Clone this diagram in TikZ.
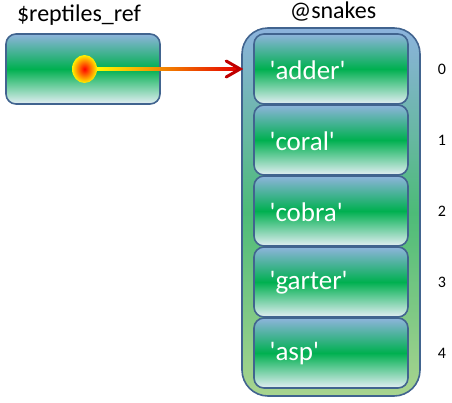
\documentclass[tikz,border=0pt]{standalone}
\usepackage{fontspec}
\setmainfont{Carlito}[Ligatures=TeXOff]
\usetikzlibrary{calc}
\definecolor{bordc}{HTML}{41648F}
\definecolor{topb}{HTML}{8EB4DC}
\definecolor{midg}{HTML}{00B050}
\definecolor{botw}{HTML}{E4EEF4}
\definecolor{otop}{HTML}{8CB3DD}
\definecolor{omid}{HTML}{4DBB78}
\definecolor{obot}{HTML}{A9D48F}
\definecolor{arrred}{HTML}{C00000}
\tikzset{
  cell/.style={draw=bordc, line width=1.6pt, rounded corners=10pt,
    top color=topb, bottom color=botw, middle color=midg,
    minimum width=154pt, minimum height=70pt, inner sep=0pt},
  celltext/.style={anchor=west, font=\fontsize{27}{27}\selectfont, text=white},
  outerbox/.style={draw=bordc, line width=1.6pt, rounded corners=26pt,
    top color=otop, bottom color=obot, middle color=omid,
    minimum width=178pt, minimum height=368pt, inner sep=0pt},
  title/.style={font=\fontsize{24}{24}\selectfont, text=black},
  idx/.style={font=\fontsize{16}{16}\selectfont, text=black}
}
\begin{document}
\begin{tikzpicture}[x=1pt,y=-1pt]
\useasboundingbox (0,0) rectangle (452,402);
\node[title] (reftitle) at (79,15) {\$reptiles\_ref};
\node[title] (arrtitle) at (333,12) {@snakes};
\node[cell] (ref) at (83,69) {};
\node[outerbox] (snakes) at (331,212) {};
\foreach \i/\w/\y in {0/adder/70,1/coral/141,2/cobra/212,3/garter/283,4/asp/354}{
  \node[cell] (c\i) at (331,\y-1) {};
  \node[celltext] (t\i) at (266,\y) {'\w'};
  \node[idx] (i\i) at (442,\y-1) {\i};
}
\coordinate (tip) at (snakes.west |- ref);
\node[minimum width=24pt, minimum height=28pt, inner sep=0pt] (dot) at (84.5,69) {};
\shade[left color=yellow, right color=red!90!black]
  ($(dot.center)+(10,-1.6)$) rectangle ($(tip)+(-3,1.6)$);
\draw[arrred, line width=3pt, line cap=round, line join=miter]
  ($(tip)+(-15,-8)$) -- ($(tip)+(-1,0)$) -- ($(tip)+(-15,8)$);
\shade[inner color=red, outer color=yellow!90!orange] (dot.center) ellipse [x radius=12.5, y radius=14];
\end{tikzpicture}
\end{document}
